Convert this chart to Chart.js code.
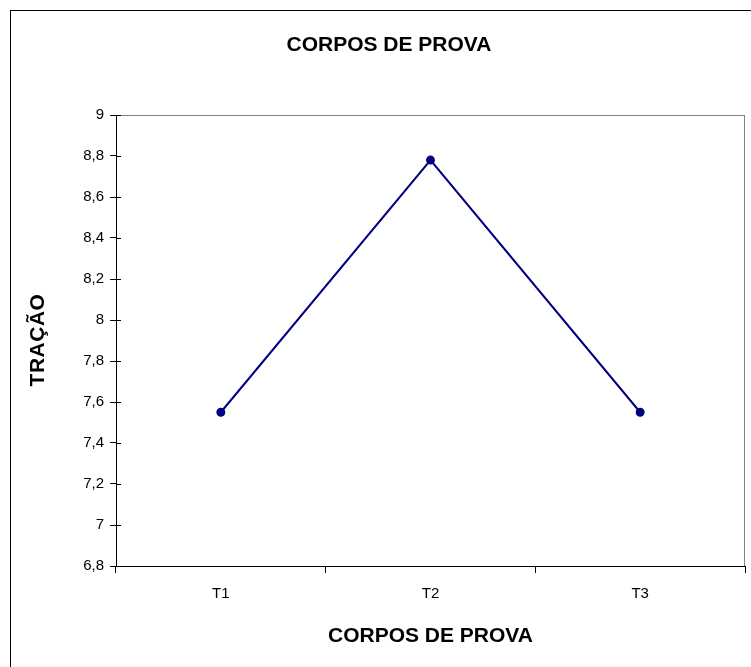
<!DOCTYPE html>
<html><head><meta charset="utf-8">
<script src="https://cdn.jsdelivr.net/npm/chart.js@4.4.0/dist/chart.umd.min.js"></script>
<style>html,body{margin:0;padding:0;background:#fff}#wrap{width:751px;height:667px}</style>
</head><body><div id="wrap"><canvas id="c" width="751" height="667"></canvas></div>
<script>
const categories = ['T1', 'T2', 'T3'];
const tracao = [7.55, 8.78, 7.55];
const chartTitle = 'CORPOS DE PROVA';
const xTitle = 'CORPOS DE PROVA';
const yTitle = 'TRAÇÃO';
const yMin = 6.8, yMax = 9, yStep = 0.2;

const FONT = "'Liberation Sans', Arial, sans-serif";

const decor = {
  id: 'decor',
  beforeDraw(chart) {
    const ctx = chart.ctx;
    ctx.save();
    ctx.fillStyle = '#fff';
    ctx.fillRect(0, 0, chart.width, chart.height);
    ctx.strokeStyle = '#000';
    ctx.lineWidth = 1;
    ctx.strokeRect(10.5, 10.5, 900, 900);
    ctx.restore();
  },
  beforeDatasetsDraw(chart) {
    const ctx = chart.ctx;
    const a = chart.chartArea;
    ctx.save();
    ctx.strokeStyle = '#808080';
    ctx.lineWidth = 1;
    ctx.beginPath();
    const rx = Math.round(a.right) - 0.5;
    ctx.moveTo(rx, a.top); ctx.lineTo(rx, a.bottom);
    ctx.stroke();
    ctx.restore();
  },
  afterDraw(chart) {
    const ctx = chart.ctx;
    const y = chart.scales.y, x = chart.scales.x;
    ctx.save();
    ctx.strokeStyle = '#000';
    ctx.lineWidth = 1;
    ctx.beginPath();
    y.ticks.forEach(t => {
      const py = Math.round(y.getPixelForValue(t.value)) + 0.5;
      ctx.moveTo(x.left, py); ctx.lineTo(x.left + 5, py);
    });
    ctx.stroke();
    ctx.fillStyle = '#000';
    ctx.font = 'bold 21px ' + FONT;
    ctx.textAlign = 'center';
    ctx.textBaseline = 'middle';
    ctx.fillText(chartTitle, 389, 45);
    ctx.translate(38, 340);
    ctx.rotate(-Math.PI / 2);
    ctx.letterSpacing = '0.5px';
    ctx.fillText(yTitle, 0, 0);
    ctx.restore();
  }
};

new Chart(document.getElementById('c'), {
  type: 'line',
  data: {
    labels: categories,
    datasets: [{
      data: tracao,
      borderColor: '#000080',
      backgroundColor: '#000080',
      borderWidth: 2,
      pointRadius: 3.5,
      pointHoverRadius: 3.5,
      pointBackgroundColor: '#000080',
      pointBorderColor: '#000080',
      tension: 0
    }]
  },
  options: {
    responsive: false,
    animation: false,
    devicePixelRatio: 1,
    layout: { padding: { left: 10, right: 6, top: 115, bottom: 0 } },
    plugins: { legend: { display: false }, title: { display: false }, tooltip: { enabled: false } },
    scales: {
      x: {
        offset: true,
        grid: {
          offset: true,
          color: 'rgba(0,0,0,0)',
          tickColor: '#000',
          tickLength: 7,
          lineWidth: 1
        },
        border: { color: '#000', width: 1 },
        ticks: { color: '#000', font: { family: FONT, size: 15 }, padding: 12 },
        title: { display: true, text: xTitle, color: '#000', font: { family: FONT, size: 21, weight: 'bold' }, padding: { top: 0, bottom: 18 } },
        afterFit: s => { s.height = 101; }
      },
      y: {
        min: yMin, max: yMax,
        ticks: {
          stepSize: yStep, color: '#000', font: { family: FONT, size: 15 }, padding: 6,
          callback: v => String(Number(v.toFixed(1))).replace('.', ',')
        },
        grid: {
          color: ctx => (ctx.tick && Math.abs(ctx.tick.value - yMax) < 1e-6) ? '#808080' : 'rgba(0,0,0,0)',
          tickColor: '#000',
          tickLength: 6,
          lineWidth: 1
        },
        border: { color: '#000', width: 1 },
        afterFit: s => { s.width = 106; }
      }
    }
  },
  plugins: [decor]
});
</script></body></html>
